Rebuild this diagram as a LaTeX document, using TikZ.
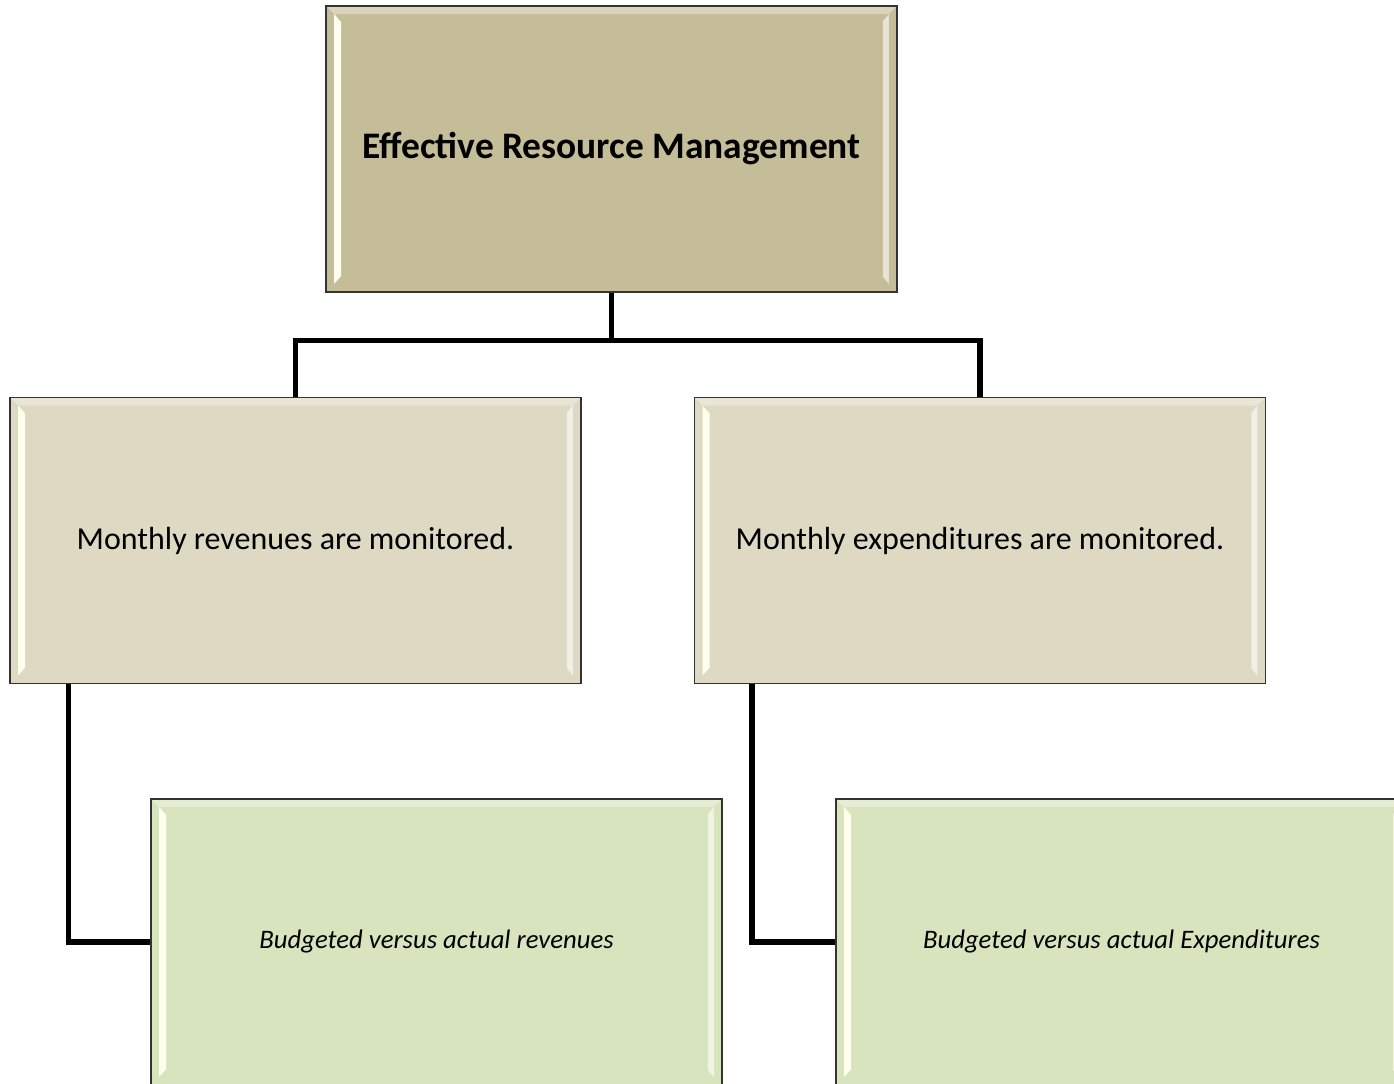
\documentclass[tikz,border=0pt]{standalone}
\usepackage{fontspec}
\setmainfont{Carlito}
\usetikzlibrary{calc}

\definecolor{tantop}{HTML}{C4BD97}
\definecolor{tanmid}{HTML}{DDD9C3}
\definecolor{greenlow}{HTML}{D7E4BD}
\definecolor{bevel}{HTML}{FFFFEE}

\begin{document}
\begin{tikzpicture}[x=0.02cm, y=-0.02cm,
    box/.style={draw=black!80, line width=0.8pt, fill=#1,
        minimum width=11.42cm, minimum height=5.72cm, inner sep=0pt,
        path picture={
            \fill [white!35!#1]
                (path picture bounding box.north west) --
                (path picture bounding box.north east) --
                ($(path picture bounding box.north east) + (-8, 8)$) --
                ($(path picture bounding box.north west) + (8, 8)$) -- cycle;
            \fill [bevel]
                ($(path picture bounding box.north west) + (8, 8)$) --
                ($(path picture bounding box.north west) + (15, 16)$) --
                ($(path picture bounding box.south west) + (15, -16)$) --
                ($(path picture bounding box.south west) + (8, -8)$) -- cycle;
            \fill [white!60!#1]
                ($(path picture bounding box.north east) + (-8, 8)$) --
                ($(path picture bounding box.north east) + (-14, 15)$) --
                ($(path picture bounding box.south east) + (-14, -15)$) --
                ($(path picture bounding box.south east) + (-8, -8)$) -- cycle;
        }},
    link/.style={line width=3.1pt, black}]

    \useasboundingbox (0, 0) rectangle (1394, 1084);
    \clip (0, 0) rectangle (1394, 1084);

    % boxes
    \node [box=tantop, font=\fontsize{21.3}{25}\selectfont\bfseries]
        (top) at (611.5, 149) {Effective Resource Management};
    \node [box=tanmid, font=\fontsize{18.2}{22}\selectfont]
        (revenue) at (295.5, 540.5) {Monthly revenues are monitored.};
    \node [box=tanmid, font=\fontsize{18.2}{22}\selectfont]
        (expense) at (980, 540.5) {Monthly expenditures are monitored.};
    \node [box=greenlow, font=\fontsize{15.2}{18}\selectfont\itshape]
        (budrev) at (436.5, 942) {Budgeted versus actual revenues};
    \node [box=greenlow, font=\fontsize{15.2}{18}\selectfont\itshape]
        (budexp) at (1121.5, 942) {Budgeted versus actual Expenditures};

    % connectors
    \coordinate (split) at ($(top.south) + (0, 48)$);
    \draw [link] (top.south) -- (split) -| (revenue.north);
    \draw [link] (split) -| (expense.north);
    \draw [link] ($(revenue.south west) + (59, 0)$) |- (budrev.west);
    \draw [link] ($(expense.south west) + (58, 0)$) |- (budexp.west);
\end{tikzpicture}
\end{document}
